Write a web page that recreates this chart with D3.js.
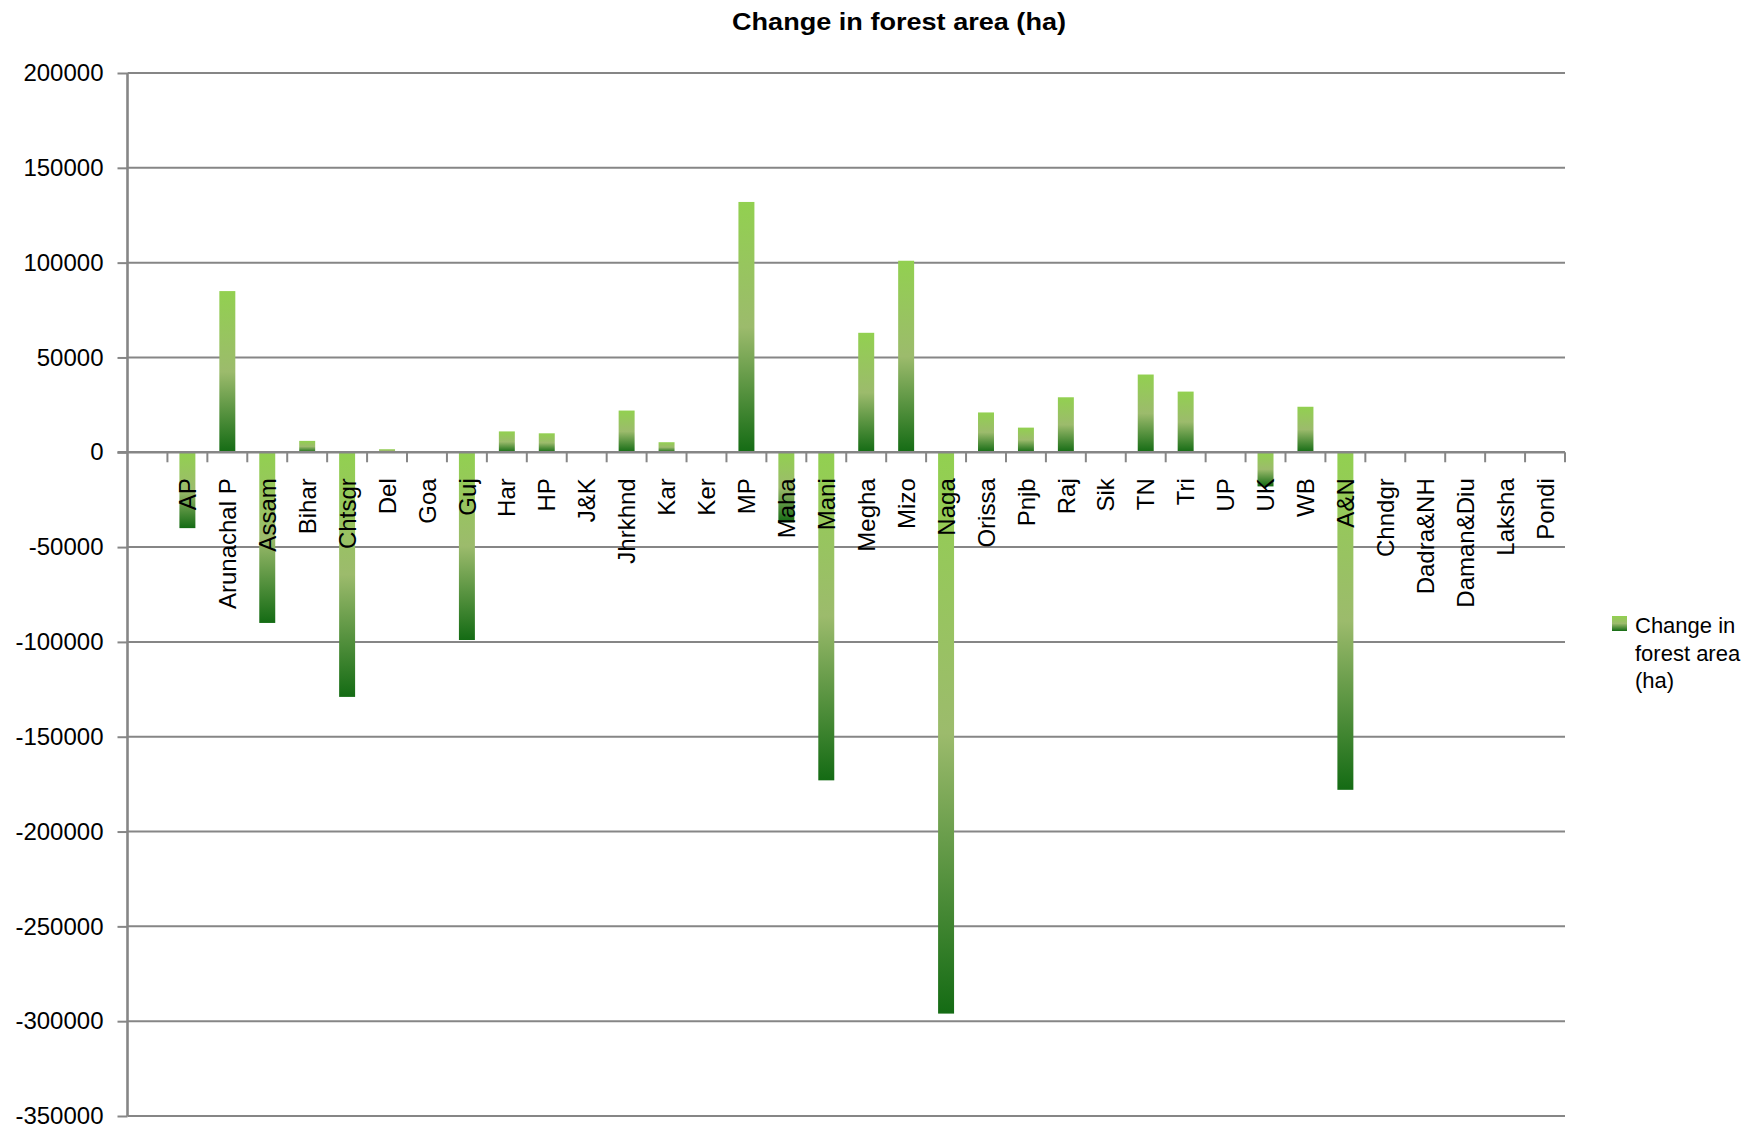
<!DOCTYPE html>
<html>
<head>
<meta charset="utf-8">
<script src="https://cdn.jsdelivr.net/npm/d3@7"></script>
<style>
  html, body { margin: 0; padding: 0; background: #ffffff; }
  svg { display: block; }
</style>
</head>
<body>
<svg id="chart" width="1760" height="1128"></svg>
<script>
// ---- data ----
const categories = ["", "AP", "Arunachal P", "Assam", "Bihar", "Chtsgr", "Del", "Goa", "Guj", "Har", "HP", "J&K",
  "Jhrkhnd", "Kar", "Ker", "MP", "Maha", "Mani", "Megha", "Mizo", "Naga", "Orissa", "Pnjb", "Raj", "Sik",
  "TN", "Tri", "UP", "UK", "WB", "A&N", "Chndgr", "Dadra&NH", "Daman&Diu", "Laksha", "Pondi"];
const forestChange = [null, -40000, 85000, -90000, 6000, -129000, 1600, 0, -99000, 11000, 10000, 0,
  22000, 5300, 0, 132000, -37000, -173000, 63000, 101000, -296000, 21000, 13000, 29000, 0,
  41000, 32000, 0, -18000, 24000, -178000, 0, 0, 0, 0, 0];
const yTickValues = [200000, 150000, 100000, 50000, 0, -50000, -100000, -150000, -200000, -250000, -300000, -350000];
const yTickLabels = ["200000", "150000", "100000", "50000", "0", "-50000", "-100000", "-150000", "-200000", "-250000", "-300000", "-350000"];
const seriesName = "Change in forest area (ha)";
const legendLines = ["Change in", "forest area", "(ha)"];

(function () {
// ---- layout ----
const plotLeft = 127.5, plotRight = 1565, plotTop = 73, plotBottom = 1116;
const gridColor = "#868686";

const svg = d3.select("#chart");

const defs = svg.append("defs");
const grad = defs.append("linearGradient")
  .attr("id", "barGrad").attr("x1", 0).attr("y1", 0).attr("x2", 0).attr("y2", 1);
grad.append("stop").attr("offset", "0%").attr("stop-color", "#92D050");
grad.append("stop").attr("offset", "50%").attr("stop-color", "#9CBB6C");
grad.append("stop").attr("offset", "100%").attr("stop-color", "#146B14");

const x = d3.scaleBand().domain(categories.map((c, i) => i)).range([plotLeft, plotRight])
  .paddingInner(0.6).paddingOuter(0.3);
const y = d3.scaleLinear().domain([-350000, 200000]).range([plotBottom, plotTop]);
const step = x.step();

// gridlines
svg.append("g").selectAll("line").data(yTickValues.filter(v => v !== 0)).join("line")
  .attr("x1", plotLeft).attr("x2", plotRight)
  .attr("y1", d => y(d)).attr("y2", d => y(d))
  .attr("stroke", gridColor).attr("stroke-width", 2);

// bars
const data = categories.map((c, i) => ({ i, c, v: forestChange[i] })).filter(d => d.v !== null && d.v !== 0);
svg.append("g").selectAll("rect").data(data).join("rect")
  .attr("x", d => x(d.i))
  .attr("width", x.bandwidth())
  .attr("y", d => y(Math.max(0, d.v)))
  .attr("height", d => Math.abs(y(d.v) - y(0)))
  .attr("fill", "url(#barGrad)");

// y axis
const yAxis = d3.axisLeft(y).tickValues(yTickValues)
  .tickFormat((d, i) => yTickLabels[i]).tickSize(10).tickPadding(14);
const gy = svg.append("g").attr("transform", `translate(${plotLeft},0)`).call(yAxis);
gy.select(".domain").attr("stroke", gridColor).attr("stroke-width", 2.6)
  .attr("d", `M0,${plotTop}V${plotBottom}`);
gy.selectAll(".tick line").attr("stroke", gridColor).attr("stroke-width", 2);
gy.selectAll(".tick text").attr("fill", "#000").style("font-family", "'Liberation Sans', Arial, sans-serif")
  .style("font-size", "24px");

// x axis (zero line), ticks at category boundaries, labels rotated
const zeroY = y(0);
const gx = svg.append("g");
gx.append("line").attr("x1", plotLeft - 10).attr("x2", plotRight).attr("y1", zeroY).attr("y2", zeroY)
  .attr("stroke", gridColor).attr("stroke-width", 2.6);
const boundaries = categories.map((c, i) => x(i) - x.paddingOuter() * step + step);
gx.selectAll("line.tk").data(boundaries).join("line").attr("class", "tk")
  .attr("x1", d => d).attr("x2", d => d).attr("y1", zeroY).attr("y2", zeroY + 10)
  .attr("stroke", gridColor).attr("stroke-width", 2);
gx.selectAll("text").data(categories.map((c, i) => ({ c, i }))).join("text")
  .attr("transform", d => `translate(${x(d.i) + x.bandwidth() / 2},${zeroY + 26}) rotate(-90)`)
  .attr("dy", "0.36em")
  .attr("text-anchor", "end")
  .attr("fill", "#000")
  .style("font-family", "'Liberation Sans', Arial, sans-serif")
  .style("font-size", "24px")
  .text(d => d.c);

// title
svg.append("text").attr("x", 899).attr("y", 30).attr("text-anchor", "middle")
  .attr("textLength", 334).attr("lengthAdjust", "spacingAndGlyphs")
  .style("font-family", "'Liberation Sans', Arial, sans-serif").style("font-size", "23px")
  .style("font-weight", "bold").text(seriesName);

// legend
const lg = svg.append("g");
lg.append("rect").attr("x", 1612).attr("y", 616).attr("width", 15).attr("height", 15).attr("fill", "url(#barGrad)");
lg.selectAll("text").data(legendLines).join("text")
  .attr("x", 1635).attr("y", (d, i) => 633 + i * 27.5)
  .style("font-family", "'Liberation Sans', Arial, sans-serif").style("font-size", "22px")
  .text(d => d);
})();
</script>
</body>
</html>
